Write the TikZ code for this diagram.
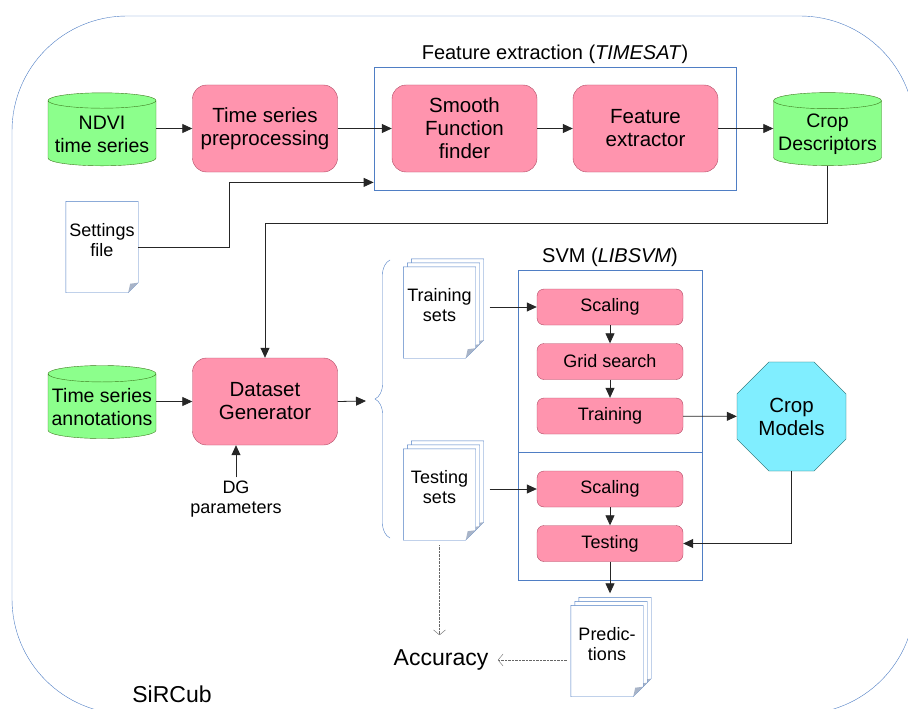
\documentclass[tikz,border=0pt]{standalone}
\usepackage{fontspec}
\setmainfont{Liberation Sans}
\definecolor{procfill}{HTML}{FF94AE}
\definecolor{procline}{HTML}{B04A64}
\definecolor{storefill}{HTML}{8CFF8C}
\definecolor{storeline}{HTML}{3E7A1E}
\definecolor{modelfill}{HTML}{80EEFF}
\definecolor{modelline}{HTML}{1F6464}
\definecolor{frameblue}{HTML}{4F7EC4}
\definecolor{foldgray}{HTML}{A8B4C8}
\usetikzlibrary{arrows.meta, positioning, calc, shapes.geometric, fit, backgrounds, decorations.pathreplacing}
\tikzset{
  proc/.style={draw=procline, fill=procfill, rounded corners=14pt, align=center,
               minimum width=145pt, minimum height=87pt, font=\fontsize{20.5}{23}\selectfont},
  svmbox/.style={draw=procline, fill=procfill, rounded corners=7pt, align=center,
               minimum width=146pt, minimum height=36pt, font=\fontsize{18}{20}\selectfont},
  store/.style={cylinder, shape border rotate=90, aspect=0.16, draw=storeline, fill=storefill,
               minimum width=108pt, minimum height=73pt, align=center, inner sep=1pt,
               font=\fontsize{19.5}{23}\selectfont},
  model/.style={regular polygon, regular polygon sides=8, draw=modelline,
               fill=modelfill, minimum size=118pt, align=center, font=\fontsize{20.5}{23}\selectfont},
  frame/.style={draw=frameblue, inner sep=18pt},
  docnode/.style={minimum width=72pt, minimum height=91pt, align=center, inner sep=0pt,
               text height=34pt, text depth=16pt, font=\fontsize{18}{20}\selectfont},
  docline/.style={draw=frameblue, fill=white},
  flow/.style={-{Triangle[length=10pt,width=9pt]}, line width=.8pt, color=black!85},
  dotflow/.style={-{Straight Barb[length=5pt,width=12pt]}, densely dotted, color=black!60},
  lbl/.style={align=center, font=\fontsize{18}{20}\selectfont},
  title/.style={inner sep=2pt, font=\fontsize{20}{23}\selectfont},
}
% sheet outline behind a docnode: [offset] name
\newcommand{\sheet}[2][0]{%
  \draw[docline] ([xshift=#1pt,yshift=#1pt]#2.north west) -- ([xshift=#1pt,yshift=#1pt]#2.north east)
    -- ([xshift=#1pt,yshift=#1pt+10pt]#2.south east) -- ([xshift=#1pt-10pt,yshift=#1pt]#2.south east)
    -- ([xshift=#1pt,yshift=#1pt]#2.south west) -- cycle;
  \fill[foldgray] ([xshift=#1pt-10pt,yshift=#1pt]#2.south east) -- ([xshift=#1pt,yshift=#1pt+10pt]#2.south east)
    -- ([xshift=#1pt-8pt,yshift=#1pt+9pt]#2.south east) -- cycle;}

\begin{document}
\begin{tikzpicture}[x=1pt,y=-1pt]
\useasboundingbox (0,0) rectangle (908,709);
\begin{scope}
\clip (0,0) rectangle (908,709);
\draw[frameblue, rounded corners=115pt] (12,16) rectangle (915,714);
\end{scope}

% feature extraction
\node[store] (ndvi) at (102,134) {NDVI\\time series};
\node[proc] (prep) at (265,128.5) {Time series\\preprocessing};
\node[proc] (smooth) at (464.5,128.5) {Smooth\\Function\\finder};
\node[proc] (feat) at (645.5,128.5) {Feature\\extractor};
\node[store] (cd) at (827.5,134) {Crop\\Descriptors};
\node[frame, fit=(smooth)(feat)] (fe) {};
\node[title, above=1pt of fe] (fel) {Feature extraction (\textit{TIMESAT})};
\node[docnode] (set) at (102,247) {Settings\\file};

% dataset generation
\node[store] (ann) at (102,407) {Time series\\annotations};
\node[proc] (dg) at (265,401.5) {Dataset\\Generator};
\node[lbl] (dgp) at (236,499) {DG\\parameters};
\node[docnode] (trs) at (439.5,312.5) {Training\\sets};
\node[docnode] (tes) at (439.5,494.5) {Testing\\sets};
\coordinate (brc) at (366,401);
\draw[frameblue, decorate, decoration={brace, amplitude=15pt}] (390,538) -- (390,260);

% svm
\node[svmbox] (sc1) at (610,307) {Scaling};
\node[svmbox] (grid) at (610,361.5) {Grid search};
\node[svmbox] (train) at (610,416) {Training};
\node[svmbox] (sc2) at (610,489) {Scaling};
\node[svmbox] (test) at (610,543.5) {Testing};
\node[frame, inner sep=18.5pt, fit=(sc1)(test)] (svm) {};
\node[title, above=1pt of svm] (svml) {SVM (\textit{LIBSVM})};
\coordinate (mid) at ($(train.south)!.5!(sc2.north)$);
\draw[frameblue] (svm.west |- mid) -- (svm.east |- mid);
\node[model] (cm) at (791.5,416.5) {Crop\\Models};
\node[docnode] (pred) at (607,651) {Predic-\\tions};
\node[font=\fontsize{23}{26}\selectfont] (acc) at (441,660) {Accuracy};
\node[font=\fontsize{23}{26}\selectfont] (sir) at (172,694) {SiRCub};

\begin{pgfonlayer}{background}
\sheet{set}
\foreach \d in {8,4,0} {\sheet[\d]{trs} \sheet[\d]{tes} \sheet[\d]{pred}}
\end{pgfonlayer}

% connectors
\draw[flow] (prep.west -| ndvi.east) -- (prep.west);
\draw[flow] (prep) -- (smooth);
\draw[flow] (smooth) -- (feat);
\draw[flow] (feat.east) -- (feat.east -| cd.west);
\draw[flow] (set.east) -- ++(91,0) |- ([yshift=8pt]fe.south west);
\draw[flow] (cd.south) -- ++(0,58) -| (dg.north);
\draw[flow] (ann.east |- dg.west) -- (dg.west);
\draw[flow] (dgp.north) -- (dgp.north |- dg.south);
\draw[flow] (dg.east) -- (brc);
\draw[flow] (sc1.west -| trs.east) ++(14,0) -- (sc1.west);
\draw[flow] (sc2.west -| tes.east) ++(14,0) -- (sc2.west);
\draw[flow] (sc1) -- (grid);
\draw[flow] (grid) -- (train);
\draw[flow] (sc2) -- (test);
\draw[flow] (train) -- (cm);
\draw[flow] (cm.south) |- (test.east);
\draw[flow] (test.south) -- ([yshift=12pt]test.south |- pred.north);
\draw[dotflow] ([yshift=-5pt]tes.south) -- ([yshift=11pt]tes.south |- acc.north);
\draw[dotflow] (acc.east -| pred.west) ++(-4,0) -- ([xshift=6pt]acc.east);
\end{tikzpicture}
\end{document}
